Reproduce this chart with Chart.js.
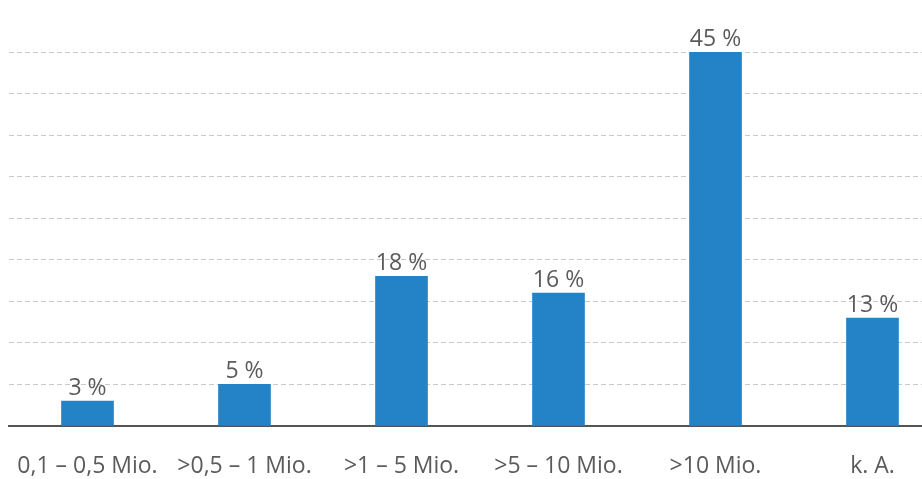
<!DOCTYPE html>
<html>
<head>
<meta charset="utf-8">
<script src="https://cdn.jsdelivr.net/npm/chart.js@4/dist/chart.umd.min.js"></script>
<style>
  html, body { margin: 0; padding: 0; background: #fff; overflow: hidden; }
  #wrap { width: 952px; height: 479px; }
</style>
</head>
<body>
<div id="wrap"><canvas id="c" width="952" height="479"></canvas></div>
<script>
// Umsatzklassen und Anteile in Prozent
const categories = ['0,1 – 0,5 Mio.', '>0,5 – 1 Mio.', '>1 – 5 Mio.', '>5 – 10 Mio.', '>10 Mio.', 'k. A.'];
const shares = [3, 5, 18, 16, 45, 13];
const yTicks = [0, 5, 10, 15, 20, 25, 30, 35, 40, 45];

const TEXT = '#5b5b5b';
const FONT = '"Open Sans", "DejaVu Sans", sans-serif';

// Prozentwerte über den Säulen
const valueLabels = {
  id: 'valueLabels',
  afterDatasetsDraw(chart) {
    const ctx = chart.ctx;
    const meta = chart.getDatasetMeta(0);
    ctx.save();
    ctx.font = '23px ' + FONT;
    ctx.fillStyle = TEXT;
    ctx.textAlign = 'center';
    ctx.textBaseline = 'alphabetic';
    meta.data.forEach((bar, i) => {
      ctx.fillText(shares[i] + ' %', bar.x, bar.y - 6);
    });
    ctx.restore();
  }
};

new Chart(document.getElementById('c'), {
  type: 'bar',
  data: {
    labels: categories,
    datasets: [{
      data: shares,
      backgroundColor: '#2483c6',
      borderWidth: 0,
      barThickness: 52
    }]
  },
  options: {
    responsive: false,
    animation: false,
    layout: { padding: { left: 9, right: 1, top: 52, bottom: 0 } },
    plugins: { legend: { display: false }, tooltip: { enabled: false } },
    scales: {
      x: {
        afterFit(scale) {
          scale.height = 53;
          scale.paddingLeft = 0;
          scale.paddingRight = 0;
        },
        grid: { display: false, drawTicks: false },
        border: { display: true, color: '#555555', width: 2 },
        ticks: {
          color: TEXT,
          font: { family: FONT, size: 23 },
          padding: 27,
          maxRotation: 0,
          autoSkip: false
        }
      },
      y: {
        min: 0,
        max: 45,
        afterFit(scale) { scale.width = 0; },
        afterBuildTicks(scale) { scale.ticks = yTicks.map(v => ({ value: v })); },
        grid: { color: '#c9c9c9', lineWidth: 1, drawTicks: false },
        border: { display: false, dash: [5, 3] },
        ticks: { display: false }
      }
    }
  },
  plugins: [valueLabels]
});
</script>
</body>
</html>
